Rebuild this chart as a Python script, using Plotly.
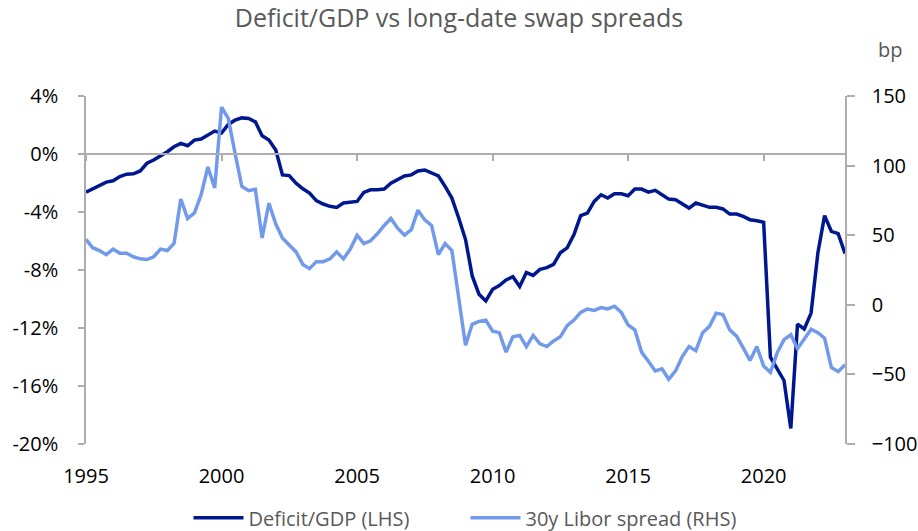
import pandas as pd
import plotly.graph_objects as go

# Quarterly observations, 1995Q1 .. 2023Q1
quarters = pd.date_range("1995-01-01", periods=113, freq="QS")

deficit_gdp = [
    -2.63, -2.42, -2.17, -1.94, -1.85, -1.55, -1.39, -1.37, -1.17, -0.64,
    -0.41, -0.14, 0.16, 0.50, 0.73, 0.57, 0.96, 1.03, 1.30, 1.58,
    1.45, 2.04, 2.33, 2.49, 2.45, 2.22, 1.26, 0.96, 0.27, -1.44,
    -1.49, -2.01, -2.40, -2.70, -3.22, -3.45, -3.61, -3.68, -3.38, -3.32,
    -3.27, -2.65, -2.47, -2.47, -2.42, -2.01, -1.78, -1.51, -1.44, -1.17,
    -1.10, -1.28, -1.51, -2.24, -3.04, -4.41, -5.90, -8.41, -9.67, -10.13,
    -9.33, -9.08, -8.69, -8.46, -9.14, -8.18, -8.37, -7.96, -7.84, -7.61,
    -6.81, -6.47, -5.56, -4.25, -4.07, -3.27, -2.81, -3.04, -2.74, -2.74,
    -2.88, -2.42, -2.42, -2.63, -2.51, -2.81, -3.11, -3.15, -3.43, -3.73,
    -3.38, -3.50, -3.68, -3.68, -3.79, -4.14, -4.14, -4.30, -4.53, -4.60,
    -4.71, -14.01, -14.81, -15.62, -18.93, -11.73, -12.07, -10.97, -6.81, -4.25,
    -5.33, -5.49, -6.86,
]

libor_spread_30y = [
    47, 41, 39, 36, 40, 37, 37, 34.5, 33, 32.5,
    34.5, 40, 39, 44, 76, 62, 66, 79, 99, 84,
    142, 134, 109, 85, 82, 83, 48, 73, 58, 48,
    43, 38, 29, 26, 31, 31, 33, 38, 33, 40,
    50, 44, 46, 51, 57, 62, 55, 50, 54, 68,
    61, 57, 36, 44, 39, 6, -29, -14, -12, -11,
    -19, -20, -34, -23, -22, -30, -22, -28, -30, -26,
    -23, -15, -11, -5.5, -3, -4, -2, -3, -1, -5.5,
    -14.5, -18, -34, -40.5, -47.5, -46, -53.5, -47.5, -37, -30,
    -33, -20, -15.5, -6, -7, -18, -22.5, -31, -40, -30,
    -44, -48.5, -34.5, -25, -21.5, -31.5, -24, -17.5, -20, -24,
    -45, -48, -43,
]

year_ticks = ["1995", "2000", "2005", "2010", "2015", "2020"]
lhs_ticks = [-20, -16, -12, -8, -4, 0, 4]
rhs_ticks = [-100, -50, 0, 50, 100, 150]

title_text = "Deficit/GDP vs long-date swap spreads"
series_names = ["Deficit/GDP (LHS)", "30y Libor spread (RHS)"]

FONT = "Open Sans"
GRAY = "#595959"
AXIS = "#ADADAD"
NAVY = "#00188F"
LIGHT = "#719AEA"

fig = go.Figure()
fig.add_trace(go.Scatter(
    x=quarters, y=deficit_gdp, name=series_names[0], mode="lines",
    line=dict(color=NAVY, width=3.5), xaxis="x", yaxis="y",
))
fig.add_trace(go.Scatter(
    x=quarters, y=libor_spread_30y, name=series_names[1], mode="lines",
    line=dict(color=LIGHT, width=3.5), xaxis="x2", yaxis="y2",
))

x_range = ["1995-01-01", "2023-01-01"]
tickvals_x = [f"{y}-01-01" for y in year_ticks]

fig.update_layout(
    width=918, height=531,
    margin=dict(l=86, r=73, t=96, b=87, autoexpand=False),
    paper_bgcolor="white", plot_bgcolor="white",
    font=dict(family=FONT, size=20, color="black"),
    title=dict(text=title_text, x=0.5, xanchor="center", y=0.966, yanchor="middle",
               font=dict(family=FONT, size=25, color=GRAY)),
    showlegend=True,
    legend=dict(orientation="h", x=0.5, xanchor="center", yref="container",
                y=0.025, yanchor="middle",
                font=dict(family=FONT, size=20, color=GRAY), itemwidth=50,
                entrywidth=212, traceorder="normal"),
    xaxis=dict(
        type="date", range=x_range, tickvals=tickvals_x, ticktext=year_ticks,
        showline=False, showgrid=False, zeroline=False, ticks="",
        ticklabelstandoff=18, tickfont=dict(size=20),
    ),
    xaxis2=dict(
        type="date", range=x_range, overlaying="x", anchor="free",
        position=20 / 24, tickvals=tickvals_x, showticklabels=False,
        showline=True, linecolor=AXIS, linewidth=1.5, ticks="outside",
        ticklen=6, tickcolor=AXIS, tickwidth=1.5, showgrid=False, zeroline=False,
    ),
    yaxis=dict(
        range=[-20, 4], tickvals=lhs_ticks, ticktext=[f"{v}%" for v in lhs_ticks],
        showline=True, linecolor=AXIS, linewidth=1.5, ticks="outside", ticklen=6,
        tickcolor=AXIS, tickwidth=1.5, showgrid=False, zeroline=False,
        ticklabelstandoff=16, tickfont=dict(size=20),
    ),
    yaxis2=dict(
        range=[-100, 150], tickvals=rhs_ticks, overlaying="y", side="right",
        anchor="x2", showline=True, linecolor=AXIS, linewidth=1.5,
        ticks="outside", ticklen=8, tickcolor=AXIS, tickwidth=1.5,
        showgrid=False, zeroline=False, ticklabelstandoff=13,
        tickfont=dict(size=20),
    ),
    annotations=[dict(
        text="bp", xref="paper", yref="paper", x=1.059, y=1.135,
        xanchor="center", yanchor="middle", showarrow=False,
        font=dict(family=FONT, size=20, color=GRAY),
    )],
)

fig.write_html(
    "out.html",
    config={"displayModeBar": False},
    post_script="document.body.style.margin='0';document.body.style.overflow='hidden';",
)
